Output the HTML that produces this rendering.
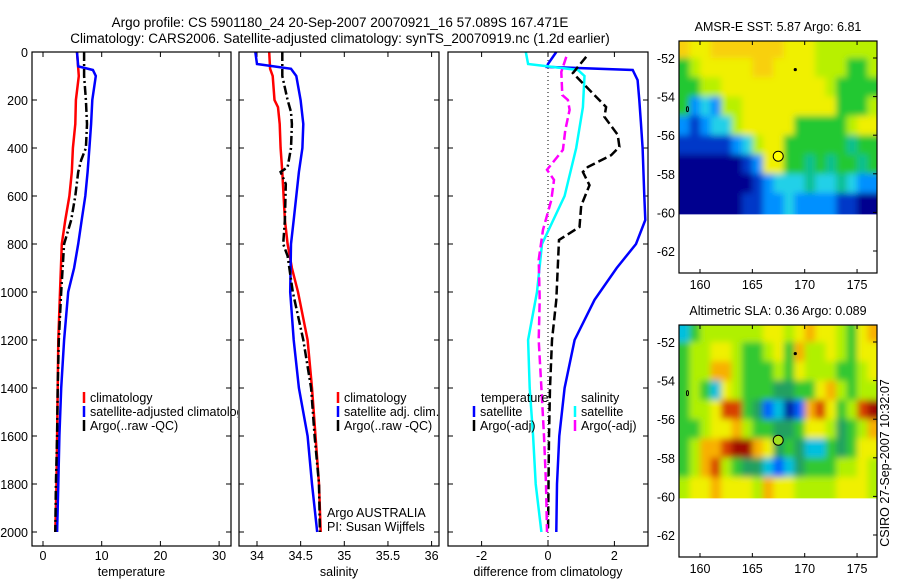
<!DOCTYPE html>
<html><head><meta charset="utf-8">
<style>
html,body{margin:0;padding:0;background:#fff;}
svg{display:block;font-family:"Liberation Sans",sans-serif;}
text{fill:#000;}
</style></head>
<body>
<svg id="fig" width="900" height="580" viewBox="0 0 900 580" xmlns="http://www.w3.org/2000/svg">
<defs>
<filter id="blur" x="0" y="0" width="1" height="1"><feGaussianBlur stdDeviation="3.2" edgeMode="duplicate"/></filter>
</defs>
<text x="340" y="27" font-size="13.5" text-anchor="middle">Argo profile: CS 5901180_24 20-Sep-2007 20070921_16 57.089S 167.471E</text>
<text x="340" y="43" font-size="13.5" text-anchor="middle">Climatology: CARS2006. Satellite-adjusted climatology: synTS_20070919.nc (1.2d earlier)</text>
<g id="layer"></g>
<text transform="translate(889,463) rotate(-90)" font-size="12.5" text-anchor="middle">CSIRO 27-Sep-2007 10:32:07</text>
</svg>
<script>
// ---------- data ----------
const depthTicks=[0,200,400,600,800,1000,1200,1400,1600,1800,2000];
const tempTicks=[0,10,20,30];
const salTicks=[34,34.5,35,35.5,36];
const salTickLabels=["34","34.5","35","35.5","36"];
const diffTicks=[-2,0,2];
const lonTicks=[160,165,170,175];
const latTicks=[-52,-54,-56,-58,-60,-62];

const tClimDepth=[0,100,200,300,400,500,600,700,800,1000,1200,1400,1600,1800,2000];
const tClimVal=[5.8,6.1,5.6,5.5,5.1,4.9,4.5,3.8,3.2,2.9,2.6,2.5,2.4,2.3,2.1];
const tSatDepth=[0,60,75,100,200,300,400,500,600,700,800,900,1000,1200,1400,1600,1800,2000];
const tSatVal=[5.8,6.0,8.5,9.0,8.4,8.2,7.9,7.6,7.2,6.6,6.0,5.3,4.3,3.6,3.1,2.8,2.6,2.4];
const tArgoDepth=[0,100,200,300,400,450,500,600,700,800,1000,1200,1400,1600,1800,2000];
const tArgoVal=[7.0,7.0,7.3,7.5,7.3,6.5,6.0,5.5,4.8,3.6,3.1,2.7,2.5,2.4,2.2,2.1];

const sClimDepth=[0,70,100,200,230,300,400,500,700,800,900,1000,1200,1400,1600,1800,2000];
const sClimVal=[34.14,34.15,34.18,34.2,34.24,34.26,34.27,34.29,34.32,34.35,34.4,34.47,34.58,34.63,34.67,34.71,34.73];
const sSatDepth=[0,50,70,100,200,300,400,500,600,700,800,1000,1200,1400,1600,1800,2000];
const sSatVal=[33.98,34.0,34.39,34.45,34.5,34.53,34.52,34.48,34.45,34.42,34.39,34.38,34.42,34.48,34.58,34.63,34.69];
const sArgoDepth=[0,100,200,250,300,400,480,500,550,700,800,850,1000,1200,1400,1600,1800,2000];
const sArgoVal=[34.29,34.29,34.35,34.39,34.4,34.39,34.35,34.27,34.33,34.32,34.3,34.35,34.41,34.53,34.62,34.66,34.71,34.72];

const dTSatDepth=[0,50,62,75,117,200,300,400,600,700,800,900,1033,1200,1400,1600,1800,2000];
const dTSatVal=[0.25,0,-0.03,2.55,2.7,2.75,2.8,2.85,2.9,2.93,2.65,2.07,1.4,0.8,0.5,0.34,0.27,0.25];
const dSSatDepth=[0,50,60,75,100,230,400,600,800,1000,1200,1400,1600,1800,2000];
const dSSatVal=[-0.67,-0.6,0,0.9,1.1,1.05,0.85,0.5,-0.18,-0.33,-0.6,-0.55,-0.45,-0.37,-0.2];
const dTArgoDepth=[20,62,88,229,270,345,395,430,479,500,555,640,729,783,1033,1200,1400,1600,2000];
const dTArgoVal=[1.15,0.9,0.75,1.75,1.7,2.1,2.15,1.9,1.2,1.05,1.25,1.0,0.95,0.33,0.25,0.12,0.06,0.03,0];
const dSArgoDepth=[20,83,179,200,241,325,408,491,533,617,741,866,1033,1200,1400,1600,1800,2000];
const dSArgoVal=[0.55,0.4,0.43,0.6,0.65,0.52,0.45,-0.03,0.18,0.1,-0.15,-0.28,-0.25,-0.28,-0.2,-0.12,-0.06,-0.03];

// map grids: rows lat -51..-60 (1 deg), cols lon 158..176
const sstRows=["8778888888777666666","5677777887777666556","5566777777777765555","5232667777777775556","2123367777755555677","1111123677555555455","0000001277554545545","0000000123334334322","0000001122322221100"];
const slaRows=["2455555566567665467","4556654456475565466","4557754445465554456","4542654443344675455","4556884312017864589","4456675443346653457","4577899763432243466","4578543321234445565","5667666576655556665"];
const sstColors=["#00008f","#0038c8","#0090ff","#20d0e8","#10c090","#20c830","#b8f000","#f0f000","#f8d010"];
const slaColors=["#0020a0","#0060ff","#00c0e0","#20a060","#30c830","#b0f000","#f0f000","#f8b000","#d84000","#a01000"];
const argoLon=167.471, argoLat=-57.089;

// ---------- helpers ----------
const NS="http://www.w3.org/2000/svg";
const layer=document.getElementById('layer');
function el(tag,attrs,parent){const e=document.createElementNS(NS,tag);for(const k in attrs)e.setAttribute(k,attrs[k]);(parent||layer).appendChild(e);return e;}
function txt(x,y,s,size,anchor,parent){const t=el('text',{x:x,y:y,'font-size':size,'text-anchor':anchor||'start'},parent);t.textContent=s;return t;}

const TOP=52,BOT=546;
const yD=d=>52+d*0.24;
const panels=[
 {x0:32,x1:231,fx:v=>43+v*5.87,ticks:tempTicks,labels:tempTicks.map(String),title:"temperature",name:"temperature"},
 {x0:239,x1:439,fx:v=>257+(v-34)*87.3,ticks:salTicks,labels:salTickLabels,title:"salinity",name:"salinity"},
 {x0:448,x1:648,fx:v=>548+v*33.2,ticks:diffTicks,labels:diffTicks.map(String),title:"difference from climatology",name:"difference"}
];

function line(p,depths,vals,color,dash,name){
  const pts=depths.map((d,i)=>p.fx(vals[i]).toFixed(1)+","+yD(d).toFixed(1)).join(" ");
  const a={points:pts,fill:"none",stroke:color,'stroke-width':2.5};
  if(dash)a['stroke-dasharray']=dash;
  const l=el('polyline',a,p.g);
  
  
}

panels.forEach((p,i)=>{
  const g=el('g',{});
  
  
  p.g=g;
  el('rect',{x:p.x0,y:TOP,width:p.x1-p.x0,height:BOT-TOP,fill:'#fff',stroke:'none'},g);
  p.ticks.forEach((v,k)=>{
    const x=p.fx(v);
    el('line',{x1:x,y1:TOP,x2:x,y2:TOP+5,stroke:'#000'},g);
    el('line',{x1:x,y1:BOT,x2:x,y2:BOT-5,stroke:'#000'},g);
    const t=txt(x,560,p.labels[k],12.5,'middle',g);
    
    
  });
  depthTicks.forEach(d=>{
    const y=yD(d);
    el('line',{x1:p.x0,y1:y,x2:p.x0+5,y2:y,stroke:'#000'},g);
    el('line',{x1:p.x1,y1:y,x2:p.x1-5,y2:y,stroke:'#000'},g);
    if(i===0){const t=txt(28,y+5,String(d),12.5,'end',g);
      
      }
  });
  const tt=txt((p.x0+p.x1)/2,576,p.title,12.5,'middle',g);
  
  
});

let p=panels[0];
line(p,tClimDepth,tClimVal,'#ff0000',null,'temp-climatology-line');
line(p,tSatDepth,tSatVal,'#0000ff',null,'temp-satellite-line');
line(p,tArgoDepth,tArgoVal,'#000',"9,3,2,3",'temp-argo-line');
p=panels[1];
line(p,sClimDepth,sClimVal,'#ff0000',null,'sal-climatology-line');
line(p,sSatDepth,sSatVal,'#0000ff',null,'sal-satellite-line');
line(p,sArgoDepth,sArgoVal,'#000',"9,3,2,3",'sal-argo-line');
p=panels[2];
el('line',{x1:548,y1:TOP,x2:548,y2:BOT,stroke:'#000','stroke-width':1,'stroke-dasharray':'1,3'},p.g);
line(p,dTSatDepth,dTSatVal,'#0000ff',null,'diff-temp-satellite-line');
line(p,dSSatDepth,dSSatVal,'#00ffff',null,'diff-sal-satellite-line');
line(p,dTArgoDepth,dTArgoVal,'#000',"9,4",'diff-temp-argo-line');
line(p,dSArgoDepth,dSArgoVal,'#ff00ff',"9,4",'diff-sal-argo-line');

panels.forEach(p=>{el('rect',{x:p.x0,y:TOP,width:p.x1-p.x0,height:BOT-TOP,fill:'none',stroke:'#000','stroke-width':1.2},p.g);});

function legend(x,y,color,label,parent,name){
  const g=el('g',{},parent);
  
  
  if(color)el('line',{x1:x,y1:y-10,x2:x,y2:y+1,stroke:color,'stroke-width':2.5},g);
  txt(x+6,y,label,12.5,'start',g);
}
const cpL=el('clipPath',{id:'cpL'});el('rect',{x:0,y:0,width:238,height:580},cpL);
const lg1=el('g',{'clip-path':'url(#cpL)'});
legend(84,402,'#ff0000','climatology',lg1,'legend-climatology');
legend(84,416,'#0000ff','satellite-adjusted climatology',lg1,'legend-satellite-adjusted');
legend(84,430,'#000','Argo(..raw -QC)',lg1,'legend-argo');
legend(338,402,'#ff0000','climatology',panels[1].g,'legend-climatology-sal');
legend(338,416,'#0000ff','satellite adj. clim.',panels[1].g,'legend-satellite-sal');
legend(338,430,'#000','Argo(..raw -QC)',panels[1].g,'legend-argo-sal');
txt(327,517,'Argo AUSTRALIA',12.5,'start',panels[1].g);
txt(327,531,'PI: Susan Wijffels',12.5,'start',panels[1].g);
legend(475,402,null,'temperature',panels[2].g,'legend-temperature-header');
legend(474,416,'#0000ff','satellite',panels[2].g,'legend-temp-satellite');
legend(474,430,'#000','Argo(-adj)',panels[2].g,'legend-temp-argo');
legend(575,402,null,'salinity',panels[2].g,'legend-salinity-header');
legend(575,416,'#00ffff','satellite',panels[2].g,'legend-sal-satellite');
legend(575,430,'#ff00ff','Argo(-adj)',panels[2].g,'legend-sal-argo');

// ---------- maps ----------
let mapId=0;
function drawMap(top,rows,colors,title,circleFill,name){
  mapId++;
  const g=el('g',{});
  
  
  const X0=679,X1=877,Y0=top,Y1=top+232;
  const lx=lon=>700+(lon-160)*10.47;
  const ly=lat=>top+17+(-52-lat)*19.3;
  const yEnd=ly(-60.1);
  const cp=el('clipPath',{id:'mc'+mapId},g);
  el('rect',{x:X0,y:Y0,width:X1-X0,height:yEnd-Y0},cp);
  const clipG=el('g',{'clip-path':'url(#mc'+mapId+')'},g);
  const cells=el('g',{filter:'url(#blur)'},clipG);
  rows.forEach((r,ri)=>{
    for(let ci=0;ci<r.length;ci++){
      const lon=158+ci, lat=-51-ri;
      const x=lx(lon)-(ci===0?8:0), xe=lx(lon+1)+(ci===r.length-1?8:0.5);
      const y=ly(lat)-(ri===0?8:0), ye=ly(lat-1)+(ri===rows.length-1?8:0.5);
      const c=el('rect',{x:x,y:y,width:xe-x,height:ye-y,fill:colors[+r[ci]]},cells);
      
      
    }
  });
  el('rect',{x:X0,y:Y0,width:X1-X0,height:Y1-Y0,fill:'none',stroke:'#000','stroke-width':1.2},g);
  lonTicks.forEach(l=>{const x=lx(l);
    el('line',{x1:x,y1:Y0,x2:x,y2:Y0+4,stroke:'#000'},g);
    el('line',{x1:x,y1:Y1,x2:x,y2:Y1-4,stroke:'#000'},g);
    txt(x,Y1+16,String(l),12.5,'middle',g);});
  latTicks.forEach(l=>{const y=ly(l);
    el('line',{x1:X1,y1:y,x2:X1-4,y2:y,stroke:'#000'},g);
    txt(675,y+5,String(l),12.5,'end',g);});
  el('circle',{cx:lx(169.1),cy:ly(-52.6),r:1.6,fill:'#000'},g);
  el('ellipse',{cx:lx(158.8),cy:ly(-54.65),rx:1,ry:2.5,fill:'none',stroke:'#000'},g);
  const c=el('circle',{cx:lx(argoLon),cy:ly(argoLat),r:5,fill:circleFill,stroke:'#000','stroke-width':1},g);
  
  
  const t=txt(778,top-10,title,12.5,'middle',g);
  
  
}
drawMap(41,sstRows,sstColors,'AMSR-E SST: 5.87 Argo: 6.81','#ffff00','sst-map');
drawMap(325,slaRows,slaColors,'Altimetric SLA: 0.36 Argo: 0.089','#a0e020','sla-map');
</script>
</body></html>
